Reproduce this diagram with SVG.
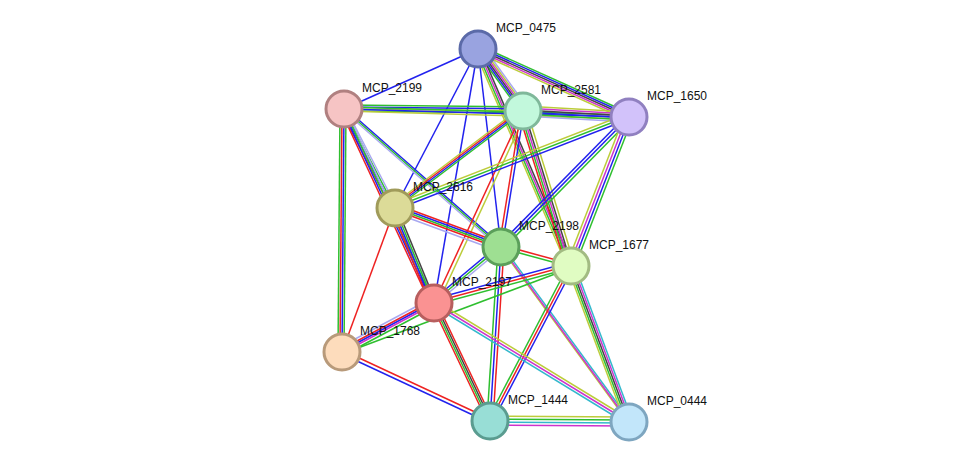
<svg xmlns="http://www.w3.org/2000/svg" width="975" height="468" viewBox="0 0 975 468">
<style>
line{stroke-width:1.5;fill:none}
.g{stroke:#2fbf2f}.b{stroke:#2222ee}.r{stroke:#ee2222}.y{stroke:#bccc3a}.k{stroke:#444}.m{stroke:#cc33cc}.l{stroke:#a8a8f0}.c{stroke:#33b8cc}
circle{stroke-width:3}
text{font-family:"Liberation Sans",Arial,sans-serif;font-size:12px;fill:#111}
</style>
<rect width="975" height="468" fill="#fff"/>
<g id="edges">
<line class="b" x1="478" y1="49" x2="344" y2="109"/>
<g transform="translate(0,0)">
<line class="g" x1="475" y1="49" x2="520" y2="111"/><line class="b" x1="477" y1="49" x2="522" y2="111"/><line class="k" x1="479" y1="49" x2="524" y2="111"/><line class="m" x1="481" y1="49" x2="526" y2="111"/><line class="y" x1="483" y1="49" x2="528" y2="111"/><line class="l" x1="485" y1="49" x2="530" y2="111"/>
</g>
<line class="g" x1="478" y1="45" x2="629" y2="113"/><line class="b" x1="478" y1="47" x2="629" y2="115"/><line class="k" x1="478" y1="49" x2="629" y2="117"/><line class="m" x1="478" y1="51" x2="629" y2="119"/><line class="y" x1="478" y1="53" x2="629" y2="121"/>
<line class="b" x1="478" y1="49" x2="395" y2="208"/>
<line class="b" x1="478" y1="49" x2="434" y2="303"/>
<line class="b" x1="478" y1="49" x2="501" y2="247"/>
<line class="y" x1="474" y1="49" x2="567" y2="266"/><line class="g" x1="476" y1="49" x2="569" y2="266"/><line class="m" x1="478" y1="49" x2="571" y2="266"/><line class="k" x1="480" y1="49" x2="573" y2="266"/>
<line class="g" x1="344" y1="105" x2="523" y2="107"/><line class="b" x1="344" y1="107" x2="523" y2="109"/><line class="y" x1="344" y1="109" x2="523" y2="111"/><line class="g" x1="344" y1="111" x2="523" y2="113"/>
<line class="g" x1="344" y1="107" x2="629" y2="115"/><line class="b" x1="344" y1="109" x2="629" y2="117"/><line class="y" x1="344" y1="111" x2="629" y2="119"/>
<line class="r" x1="340" y1="109" x2="391" y2="208"/><line class="b" x1="342" y1="109" x2="393" y2="208"/><line class="g" x1="344" y1="109" x2="395" y2="208"/><line class="l" x1="346" y1="109" x2="397" y2="208"/>
<line class="r" x1="340" y1="109" x2="430" y2="303"/><line class="b" x1="342" y1="109" x2="432" y2="303"/><line class="g" x1="344" y1="109" x2="434" y2="303"/><line class="l" x1="346" y1="109" x2="436" y2="303"/>
<line class="b" x1="344" y1="107" x2="501" y2="245"/><line class="g" x1="344" y1="109" x2="501" y2="247"/><line class="l" x1="344" y1="111" x2="501" y2="249"/>
<line class="g" x1="340" y1="109" x2="338" y2="352"/><line class="r" x1="342" y1="109" x2="340" y2="352"/><line class="b" x1="344" y1="109" x2="342" y2="352"/><line class="g" x1="346" y1="109" x2="344" y2="352"/>
<line class="y" x1="523" y1="106" x2="629" y2="112"/><line class="m" x1="523" y1="108" x2="629" y2="114"/><line class="k" x1="523" y1="110" x2="629" y2="116"/><line class="b" x1="523" y1="112" x2="629" y2="118"/><line class="g" x1="523" y1="114" x2="629" y2="120"/><line class="l" x1="523" y1="116" x2="629" y2="122"/>
<line class="y" x1="523" y1="106" x2="395" y2="203"/><line class="r" x1="523" y1="108" x2="395" y2="205"/><line class="b" x1="523" y1="110" x2="395" y2="207"/><line class="g" x1="523" y1="112" x2="395" y2="209"/>
<line class="r" x1="523" y1="111" x2="434" y2="303"/>
<line class="y" x1="527" y1="111" x2="438" y2="303"/>
<line class="r" x1="521" y1="111" x2="499" y2="247"/><line class="b" x1="524" y1="111" x2="502" y2="247"/>
<line class="r" x1="518" y1="111" x2="566" y2="266"/><line class="g" x1="520" y1="111" x2="568" y2="266"/><line class="m" x1="522" y1="111" x2="570" y2="266"/><line class="k" x1="524" y1="111" x2="572" y2="266"/><line class="y" x1="527" y1="111" x2="575" y2="266"/>
<line class="y" x1="629" y1="113" x2="395" y2="204"/><line class="g" x1="629" y1="116" x2="395" y2="207"/><line class="b" x1="629" y1="119" x2="395" y2="210"/>
<line class="b" x1="627" y1="115" x2="499" y2="245"/><line class="b" x1="629" y1="117" x2="501" y2="247"/><line class="g" x1="631" y1="119" x2="503" y2="249"/>
<line class="y" x1="624" y1="117" x2="566" y2="266"/><line class="m" x1="627" y1="117" x2="569" y2="266"/><line class="b" x1="630" y1="117" x2="572" y2="266"/><line class="g" x1="633" y1="117" x2="575" y2="266"/>
<line class="r" x1="395" y1="204" x2="501" y2="243"/><line class="b" x1="395" y1="206" x2="501" y2="245"/><line class="g" x1="395" y1="208" x2="501" y2="247"/><line class="r" x1="395" y1="210" x2="501" y2="249"/><line class="l" x1="395" y1="213" x2="501" y2="252"/>
<line class="r" x1="391" y1="208" x2="430" y2="303"/><line class="b" x1="393" y1="208" x2="432" y2="303"/><line class="g" x1="395" y1="208" x2="434" y2="303"/><line class="k" x1="397" y1="208" x2="436" y2="303"/>
<line class="r" x1="395" y1="208" x2="342" y2="352"/>
<line class="r" x1="501" y1="245" x2="571" y2="264"/><line class="g" x1="501" y1="248" x2="571" y2="267"/>
<line class="b" x1="501" y1="243" x2="434" y2="299"/><line class="g" x1="501" y1="246" x2="434" y2="302"/><line class="l" x1="501" y1="249" x2="434" y2="305"/>
<line class="g" x1="498" y1="247" x2="487" y2="421"/><line class="b" x1="501" y1="247" x2="490" y2="421"/><line class="r" x1="504" y1="247" x2="493" y2="421"/>
<line class="y" x1="500" y1="247" x2="628" y2="422"/><line class="c" x1="503" y1="247" x2="631" y2="422"/>
<line class="m" x1="501" y1="247" x2="629" y2="422"/>
<line class="b" x1="571" y1="262" x2="434" y2="299"/><line class="r" x1="571" y1="265" x2="434" y2="302"/><line class="g" x1="571" y1="268" x2="434" y2="305"/>
<line class="g" x1="571" y1="268" x2="342" y2="354"/>
<line class="g" x1="568" y1="266" x2="487" y2="421"/><line class="r" x1="571" y1="266" x2="490" y2="421"/><line class="b" x1="574" y1="266" x2="493" y2="421"/>
<line class="y" x1="567" y1="266" x2="625" y2="422"/><line class="g" x1="569" y1="266" x2="627" y2="422"/><line class="k" x1="571" y1="266" x2="629" y2="422"/><line class="m" x1="573" y1="266" x2="631" y2="422"/><line class="c" x1="575" y1="266" x2="633" y2="422"/>
<line class="l" x1="434" y1="297" x2="342" y2="346"/><line class="r" x1="434" y1="300" x2="342" y2="349"/><line class="b" x1="434" y1="302" x2="342" y2="351"/><line class="m" x1="434" y1="304" x2="342" y2="353"/><line class="g" x1="434" y1="307" x2="342" y2="356"/>
<line class="r" x1="431" y1="303" x2="487" y2="421"/><line class="g" x1="433" y1="303" x2="489" y2="421"/><line class="k" x1="435" y1="303" x2="491" y2="421"/><line class="r" x1="437" y1="303" x2="493" y2="421"/>
<line class="m" x1="434" y1="303" x2="629" y2="422"/>
<line class="y" x1="434" y1="300" x2="629" y2="419"/><line class="c" x1="434" y1="306" x2="629" y2="425"/>
<line class="r" x1="342" y1="350" x2="490" y2="419"/><line class="b" x1="342" y1="354" x2="490" y2="423"/>
<line class="y" x1="490" y1="416" x2="629" y2="417"/><line class="g" x1="490" y1="419" x2="629" y2="420"/><line class="m" x1="490" y1="425" x2="629" y2="426"/><line class="c" x1="490" y1="422" x2="629" y2="423"/>
</g>
<g id="MCP_0475"><circle cx="478" cy="49" r="18" fill="#99a3e0" stroke="#5b6aa8"/><text x="496" y="32">MCP_0475</text></g>
<g id="MCP_2199"><circle cx="344" cy="109" r="18" fill="#f6c4c4" stroke="#b08080"/><text x="362" y="92">MCP_2199</text></g>
<g id="MCP_2581"><circle cx="523" cy="111" r="18" fill="#c2f8dc" stroke="#7fb89a"/><text x="541" y="94">MCP_2581</text></g>
<g id="MCP_1650"><circle cx="629" cy="117" r="18" fill="#d2c2fa" stroke="#9080c0"/><text x="647" y="100">MCP_1650</text></g>
<g id="MCP_2616"><circle cx="395" cy="208" r="18" fill="#dcdb98" stroke="#a09b5a"/><text x="413" y="191">MCP_2616</text></g>
<g id="MCP_2198"><circle cx="501" cy="247" r="18" fill="#9edf92" stroke="#5b9f5a"/><text x="519" y="230">MCP_2198</text></g>
<g id="MCP_1677"><circle cx="571" cy="266" r="18" fill="#e0fcc2" stroke="#a2bb82"/><text x="589" y="249">MCP_1677</text></g>
<g id="MCP_2197"><circle cx="434" cy="303" r="18" fill="#fa9292" stroke="#b85e5e"/><text x="452" y="286">MCP_2197</text></g>
<g id="MCP_1768"><circle cx="342" cy="352" r="18" fill="#fddcbc" stroke="#b89a7a"/><text x="360" y="335">MCP_1768</text></g>
<g id="MCP_1444"><circle cx="490" cy="421" r="18" fill="#98ded6" stroke="#5a9c90"/><text x="508" y="404">MCP_1444</text></g>
<g id="MCP_0444"><circle cx="629" cy="422" r="18" fill="#c2e6fa" stroke="#7ea6c0"/><text x="647" y="405">MCP_0444</text></g>
</svg>
